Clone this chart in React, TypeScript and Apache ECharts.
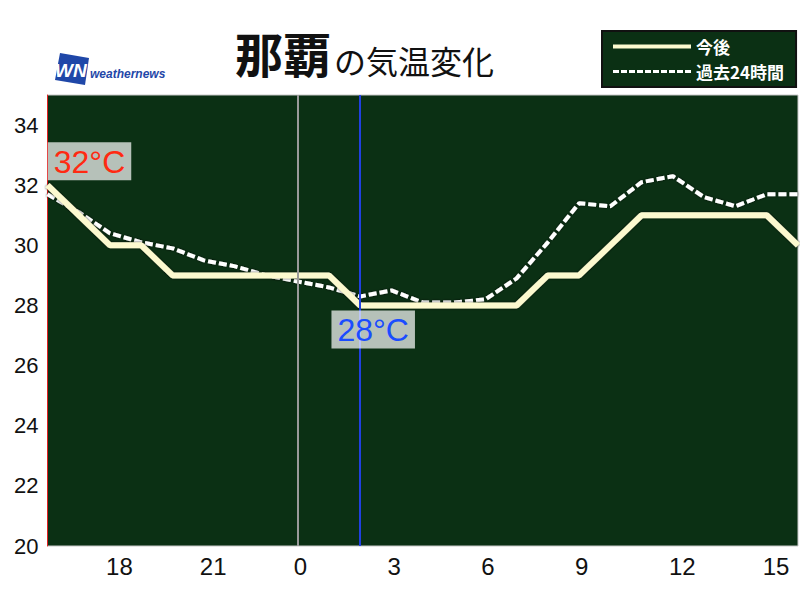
import React, { useEffect, useRef } from "react";
import * as echarts from "echarts";

const hours = [16, 17, 18, 19, 20, 21, 22, 23, 0, 1, 2, 3, 4, 5, 6, 7, 8, 9, 10, 11, 12, 13, 14, 15, 16];
const forecast = [32, 31, 30, 30, 29, 29, 29, 29, 29, 29, 28, 28, 28, 28, 28, 28, 29, 29, 30, 31, 31, 31, 31, 31, 30];
const past24h = [31.7, 31.1, 30.4, 30.1, 29.9, 29.5, 29.3, 29.0, 28.8, 28.6, 28.3, 28.5, 28.1, 28.1, 28.2, 28.9, 30.1, 31.4, 31.3, 32.1, 32.3, 31.6, 31.3, 31.7, 31.7];
const yTicks = [20, 22, 24, 26, 28, 30, 32, 34];
const seriesNames = ["今後", "過去24時間"];
const cityName = "那覇";
const subtitle = "の気温変化";
const maxMark = { index: 0, value: 32, text: "32°C" };
const minMark = { index: 10, value: 28, text: "28°C" };
const midnightIndex = 8;
const nowIndex = 10;

export default function App() {
  const ref = useRef<HTMLDivElement>(null);
  useEffect(() => {
    if (!ref.current) return;
    const chart = echarts.init(ref.current, null, { renderer: "svg" });
    const categories = hours.map(String);
    chart.setOption({
      animation: false,
      backgroundColor: "#ffffff",
      grid: {
        left: 47.5,
        right: 2,
        top: 95,
        bottom: 54,
        show: true,
        backgroundColor: "#0b3014",
        borderColor: "#c8c8c8",
        borderWidth: 1,
      },
      legend: {
        data: [
          { name: seriesNames[0], itemStyle: { opacity: 0 }, lineStyle: { width: 4, color: "#fcf9cf", type: "solid" } },
          { name: seriesNames[1], itemStyle: { opacity: 0 }, lineStyle: { width: 3, color: "#ffffff", type: [6, 2] } },
        ],
        orient: "vertical",
        left: 602,
        top: 31,
        backgroundColor: "#0b3014",
        borderColor: "#111111",
        borderWidth: 2,
        padding: [7, 12, 7, 9],
        itemGap: 8,
        itemWidth: 78,
        itemHeight: 14,
        itemStyle: { opacity: 0 },
        textStyle: {
          color: "#ffffff",
          fontSize: 17,
          fontWeight: "bold",
          fontFamily: "Noto Sans CJK JP",
        },
      },
      graphic: [
        {
          type: "polygon",
          shape: { points: [[60, 53], [89, 58], [85, 85], [55, 80]] },
          style: { fill: "#1f47a8" },
        },
        {
          type: "text",
          x: 55,
          y: 61,
          style: {
            text: "WN",
            fill: "#ffffff",
            font: "italic bold 19px Liberation Sans",
          },
        },
        {
          type: "text",
          x: 90,
          y: 68,
          style: {
            text: "weathernews",
            fill: "#1f47a8",
            font: "italic bold 12px Liberation Sans",
          },
        },
        {
          type: "text",
          x: 235,
          y: 28,
          style: {
            text: "{a|" + cityName + "}{b|" + subtitle + "}",
            rich: {
              a: {
                fontSize: 48,
                fontWeight: "bold",
                fontFamily: "Noto Sans CJK JP",
                fill: "#111",
                verticalAlign: "bottom",
              },
              b: {
                fontSize: 32,
                fontWeight: "normal",
                fontFamily: "Noto Sans CJK JP",
                fill: "#111",
                verticalAlign: "bottom",
                padding: [0, 0, 0, 3],
              },
            },
          },
        },
      ],
      xAxis: {
        type: "category",
        data: categories,
        boundaryGap: false,
        axisLine: { show: false },
        axisTick: { show: false },
        splitLine: { show: false },
        axisLabel: {
          interval: (idx: number) => idx > 0 && idx < hours.length - 1 && hours[idx] % 3 === 0,
          color: "#111",
          fontSize: 24,
          fontFamily: "Liberation Sans Narrow, Liberation Sans",
          margin: 8,
          align: "left",
          padding: [0, 0, 0, -4],
        },
      },
      yAxis: {
        type: "value",
        min: 20,
        max: 35,
        interval: 2,
        axisLine: { show: true, lineStyle: { color: "#e02020", width: 1 } },
        axisTick: { show: false },
        axisLabel: {
          color: "#111",
          fontSize: 22,
          fontFamily: "Liberation Sans",
          margin: 9,
          showMaxLabel: false,
          formatter: (v: number) => (yTicks.includes(v) ? String(v) : ""),
        },
        splitLine: {
          show: true,
          lineStyle: {
            color: "#8a8a8a",
            width: 2,
            shadowColor: "#000000",
            shadowOffsetY: 2,
            shadowBlur: 0,
          },
        },
      },
      series: [
        {
          name: "marks",
          type: "line",
          data: [],
          z: 1,
          silent: true,
          markLine: {
            symbol: "none",
            silent: true,
            label: { show: false },
            data: [
              { xAxis: midnightIndex, lineStyle: { color: "#9a9a9a", width: 2, type: "solid" } },
              { xAxis: nowIndex, lineStyle: { color: "#2040e0", width: 2, type: "solid" } },
            ],
          },
        },
        {
          name: seriesNames[1],
          type: "line",
          data: past24h,
          z: 3,
          symbol: "none",
          lineStyle: {
            color: "#ffffff",
            width: 4,
            type: [8, 3],
            shadowColor: "rgba(0,0,0,0.9)",
            shadowBlur: 2,
          },
          itemStyle: { color: "#ffffff" },
        },
        {
          name: seriesNames[0],
          type: "line",
          data: forecast,
          z: 4,
          symbol: "none",
          lineStyle: {
            color: "#fcf9cf",
            width: 6,
            shadowColor: "rgba(0,0,0,0.9)",
            shadowBlur: 2,
          },
          itemStyle: { color: "#fcf9cf" },
          markPoint: {
            symbol: "rect",
            symbolSize: 0,
            silent: true,
            data: [
              {
                coord: [maxMark.index, maxMark.value],
                label: {
                  show: true,
                  formatter: maxMark.text,
                  position: "top",
                  distance: 5,
                  offset: [42, 0],
                  color: "#ff2a12",
                  fontSize: 32,
                  fontFamily: "Liberation Sans",
                  backgroundColor: "rgba(255,255,255,0.7)",
                  padding: [3, 6, 2, 6],
                  lineHeight: 33,
                },
              },
              {
                coord: [minMark.index, minMark.value],
                label: {
                  show: true,
                  formatter: minMark.text,
                  position: "bottom",
                  distance: 5,
                  offset: [13, 0],
                  color: "#1a4cff",
                  fontSize: 32,
                  fontFamily: "Liberation Sans",
                  backgroundColor: "rgba(255,255,255,0.7)",
                  padding: [3, 6, 2, 6],
                  lineHeight: 33,
                },
              },
            ],
          },
        },
      ],
    });
    return () => chart.dispose();
  }, []);
  return <div ref={ref} style={{ width: 800, height: 600, position: "absolute", left: 0, top: 0 }} />;
}
